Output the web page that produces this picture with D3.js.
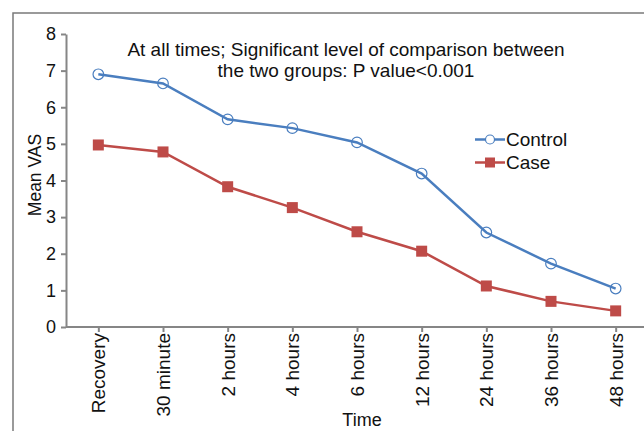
<!DOCTYPE html>
<html lang="en">
<head>
    <meta charset="UTF-8">
    <title>Mean VAS over time</title>
    <script src="https://d3js.org/d3.v7.min.js"></script>
    <style>
        body {
            margin: 0;
            background: #fff;
            font-family: "Liberation Sans", Arial, sans-serif;
        }
        svg {
            display: block;
        }
        .axis path, .axis line {
            stroke: #868686;
            stroke-width: 2px;
        }
        .axis text {
            fill: #111;
            font-family: "Liberation Sans", Arial, sans-serif;
        }
    </style>
</head>
<body>
    <svg width="644" height="431"></svg>
    <script>
        // data
        const categories = ["Recovery", "30 minute", "2 hours", "4 hours", "6 hours",
                            "12 hours", "24 hours", "36 hours", "48 hours"];
        const controlValues = [6.90, 6.65, 5.67, 5.43, 5.04, 4.19, 2.58, 1.73, 1.05];
        const caseValues = [4.97, 4.78, 3.83, 3.26, 2.60, 2.07, 1.12, 0.70, 0.44];
        const yTicks = [0, 1, 2, 3, 4, 5, 6, 7, 8];
        const titleLines = ["At all times; Significant level of comparison between",
                            "the two groups: P value<0.001"];

        const blue = "#4A7EBF";
        const red = "#BE4B48";

        const svg = d3.select("svg");

        // outer frame (only top and left visible)
        svg.append("path")
            .attr("d", "M13,431V13H644")
            .attr("fill", "none")
            .attr("stroke", "#7a7a7a")
            .attr("stroke-width", 1.5);

        const x = d3.scalePoint()
            .domain(categories)
            .range([66, 648])
            .padding(0.5);

        const y = d3.scaleLinear()
            .domain([0, 8])
            .range([327, 34]);

        // y axis
        const yAxis = svg.append("g")
            .attr("class", "axis")
            .attr("transform", "translate(66,0)")
            .call(d3.axisLeft(y).tickValues(yTicks).tickSize(5).tickSizeOuter(0).tickPadding(5));
        yAxis.selectAll("text").style("font-size", "18px");

        // x axis
        const xAxis = svg.append("g")
            .attr("class", "axis")
            .attr("transform", "translate(0,327)")
            .call(d3.axisBottom(x).tickSize(5).tickSizeOuter(0));
        xAxis.select(".domain").attr("d", "M66,0H648");
        xAxis.selectAll("text")
            .style("font-size", "19px")
            .attr("text-anchor", "end")
            .attr("transform", "rotate(-90)")
            .attr("x", -6)
            .attr("y", 0)
            .attr("dy", "0.35em");

        // axis titles
        svg.append("text")
            .attr("x", 362)
            .attr("y", 426)
            .attr("text-anchor", "middle")
            .style("font-size", "18px")
            .attr("fill", "#111")
            .text("Time");

        svg.append("text")
            .attr("transform", "translate(41,175) rotate(-90)")
            .attr("text-anchor", "middle")
            .style("font-size", "17.5px")
            .attr("fill", "#111")
            .text("Mean VAS");

        // title
        svg.append("g").selectAll("text")
            .data(titleLines)
            .enter()
            .append("text")
            .attr("x", 346)
            .attr("y", (d, i) => 55.5 + i * 21)
            .attr("text-anchor", "middle")
            .style("font-size", "19px")
            .attr("fill", "#111")
            .text(d => d);

        const line = d3.line()
            .x((d, i) => x(categories[i]))
            .y(d => y(d));

        // control series
        svg.append("path")
            .datum(controlValues)
            .attr("d", line)
            .attr("fill", "none")
            .attr("stroke", blue)
            .attr("stroke-width", 2.5);

        svg.append("g").selectAll("circle")
            .data(controlValues)
            .enter()
            .append("circle")
            .attr("cx", (d, i) => x(categories[i]))
            .attr("cy", d => y(d))
            .attr("r", 5.3)
            .attr("fill", "none")
            .attr("stroke", blue)
            .attr("stroke-width", 1.2);

        // case series
        svg.append("path")
            .datum(caseValues)
            .attr("d", line)
            .attr("fill", "none")
            .attr("stroke", red)
            .attr("stroke-width", 2.5);

        svg.append("g").selectAll("rect")
            .data(caseValues)
            .enter()
            .append("rect")
            .attr("x", (d, i) => x(categories[i]) - 5.5)
            .attr("y", d => y(d) - 5.5)
            .attr("width", 11)
            .attr("height", 11)
            .attr("fill", red);

        // legend
        const legend = svg.append("g");
        const legendItems = [
            { name: "Control", color: blue, y: 139.5, marker: "circle" },
            { name: "Case", color: red, y: 162.5, marker: "square" }
        ];
        legendItems.forEach(item => {
            legend.append("line")
                .attr("x1", 475).attr("x2", 505)
                .attr("y1", item.y).attr("y2", item.y)
                .attr("stroke", item.color)
                .attr("stroke-width", 2.5);
            if (item.marker === "circle") {
                legend.append("circle")
                    .attr("cx", 490).attr("cy", item.y).attr("r", 4.5)
                    .attr("fill", "#fff")
                    .attr("stroke", item.color)
                    .attr("stroke-width", 1.2);
            } else {
                legend.append("rect")
                    .attr("x", 485).attr("y", item.y - 5)
                    .attr("width", 10).attr("height", 10)
                    .attr("fill", item.color);
            }
            legend.append("text")
                .attr("x", 506)
                .attr("y", item.y + 6.5)
                .style("font-size", "19px")
                .attr("fill", "#111")
                .text(item.name);
        });
    </script>
</body>
</html>
